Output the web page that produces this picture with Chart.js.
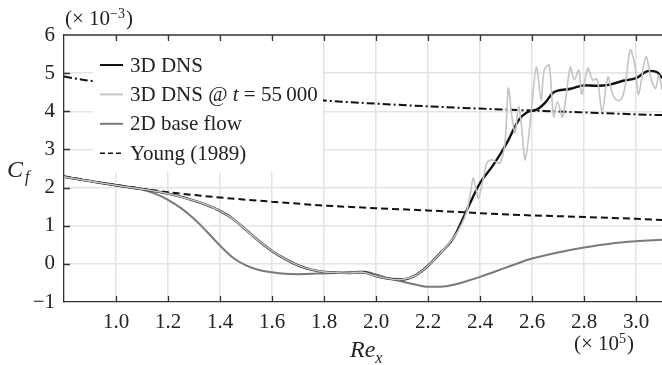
<!DOCTYPE html>
<html>
<head>
<meta charset="utf-8">
<script src="https://cdn.jsdelivr.net/npm/chart.js@4.4.0/dist/chart.umd.min.js"></script>
<style>
  html, body { margin: 0; padding: 0; background: #fff; }
  canvas { display: block; }
</style>
</head>
<body>
<canvas id="cf" width="662" height="365"></canvas>
<script>
// tick labels
const xTicks = [1.0, 1.2, 1.4, 1.6, 1.8, 2.0, 2.2, 2.4, 2.6, 2.8, 3.0];
const yTicks = [-1, 0, 1, 2, 3, 4, 5, 6];

// 3D DNS (time averaged)
const dnsX = [0.8, 0.9, 1.0, 1.1, 1.2, 1.3, 1.35, 1.4, 1.45, 1.5, 1.55, 1.6, 1.65, 1.7, 1.75, 1.8, 1.85, 1.9, 1.95, 2.0,
  2.05, 2.1, 2.15, 2.2, 2.25, 2.3, 2.35, 2.4, 2.45, 2.5, 2.55, 2.58, 2.62, 2.65, 2.68, 2.7, 2.75, 2.8, 2.85, 2.9, 2.95, 3.0, 3.05, 3.08, 3.1];
const dnsY = [2.28, 2.17, 2.06, 1.96, 1.84, 1.66, 1.54, 1.39, 1.18, 0.89, 0.60, 0.34, 0.13, -0.04, -0.15, -0.21, -0.23, -0.24, -0.22, -0.32,
  -0.39, -0.41, -0.31, -0.05, 0.30, 0.70, 1.42, 2.12, 2.58, 3.13, 3.78, 3.97, 4.05, 4.22, 4.48, 4.54, 4.59, 4.68, 4.67, 4.70, 4.80, 4.87, 5.06, 5.03, 4.87];

// 3D DNS snapshot @ t = 55 000
const snapX = [0.8, 0.9, 1.0, 1.1, 1.2, 1.3, 1.35, 1.4, 1.45, 1.5, 1.55, 1.6, 1.65, 1.7, 1.75, 1.8, 1.85, 1.9, 1.95, 2.0,
  2.05, 2.1, 2.15, 2.2, 2.25, 2.3, 2.33, 2.35, 2.362, 2.374, 2.385, 2.394, 2.41, 2.426, 2.445, 2.46, 2.477, 2.496, 2.509,
  2.522, 2.535, 2.548, 2.56, 2.573, 2.585, 2.599, 2.617, 2.635, 2.647, 2.666, 2.683, 2.698, 2.718, 2.747, 2.763, 2.78,
  2.792, 2.815, 2.833, 2.85, 2.87, 2.892, 2.91, 2.93, 2.945, 2.958, 2.978, 2.996, 3.01, 3.038, 3.06, 3.075, 3.088, 3.1];
const snapY = [2.28, 2.17, 2.06, 1.96, 1.84, 1.66, 1.54, 1.39, 1.18, 0.89, 0.60, 0.34, 0.13, -0.04, -0.15, -0.21, -0.23, -0.24, -0.22, -0.32,
  -0.39, -0.41, -0.31, -0.05, 0.30, 0.70, 1.05, 1.40, 1.80, 2.25, 1.95, 1.72, 2.15, 2.64, 2.73, 2.68, 2.64, 3.16, 4.60,
  3.90, 3.43, 4.12, 3.60, 2.73, 3.20, 4.12, 5.15, 4.30, 5.08, 5.21, 3.86, 4.25, 3.85, 5.15, 4.82, 5.08,
  4.45, 5.13, 4.82, 4.85, 4.00, 4.90, 4.45, 4.28, 4.34, 4.65, 5.61, 5.20, 4.45, 5.43, 4.80, 4.60, 4.95, 4.56];

// 2D base flow
const baseX = [0.8, 0.9, 1.0, 1.1, 1.15, 1.2, 1.25, 1.3, 1.35, 1.4, 1.45, 1.5, 1.55, 1.6, 1.65, 1.7, 1.8, 1.9, 1.95, 2.0,
  2.05, 2.1, 2.15, 2.2, 2.25, 2.3, 2.35, 2.4, 2.5, 2.6, 2.7, 2.8, 2.9, 3.0, 3.1];
const baseY = [2.28, 2.17, 2.06, 1.95, 1.84, 1.68, 1.46, 1.18, 0.84, 0.48, 0.16, -0.04, -0.16, -0.22, -0.26, -0.27, -0.25, -0.22, -0.20, -0.28,
  -0.38, -0.46, -0.54, -0.60, -0.60, -0.55, -0.45, -0.34, -0.10, 0.14, 0.30, 0.43, 0.53, 0.59, 0.63];

// Young (1989), laminar and turbulent correlations
const youngLamX = [0.8, 0.9, 1.0, 1.2, 1.4, 1.6, 1.8, 2.0, 2.2, 2.4, 2.6, 2.8, 3.0, 3.1];
const youngLamY = [2.30, 2.17, 2.07, 1.88, 1.74, 1.63, 1.53, 1.46, 1.40, 1.33, 1.27, 1.23, 1.18, 1.15];
const youngTurbX = [0.8, 0.9, 1.0, 1.2, 1.4, 1.6, 1.8, 2.0, 2.2, 2.4, 2.6, 2.8, 3.0, 3.1];
const youngTurbY = [4.91, 4.80, 4.73, 4.58, 4.46, 4.36, 4.28, 4.20, 4.13, 4.07, 4.02, 3.97, 3.92, 3.90];

const SERIF = "'Liberation Serif', 'DejaVu Serif'";
const pts = (xs, ys) => xs.map((x, i) => ({ x: x, y: ys[i] }));

// legend rows (drawn by hand so it sits in a white box inside the axes)
const legendRows = [
  { parts: [['3D DNS', '']], color: '#111', dash: [], width: 2 },
  { parts: [['3D DNS @ ', ''], ['t', 'italic '], [' = 55\u2009000', '']], color: '#c4c4c4', dash: [], width: 2 },
  { parts: [['2D base flow', '']], color: '#7a7a7a', dash: [], width: 2 },
  { parts: [['Young (1989)', '']], color: '#111', dash: [5, 3], width: 1.6 }
];

function runs(ctx, x, y, list) {
  for (const [t, font] of list) {
    ctx.font = font;
    ctx.fillText(t, x, y);
    x += ctx.measureText(t).width;
  }
  return x;
}

const decor = {
  id: 'decor',
  afterDatasetsDraw(chart) {
    const ctx = chart.ctx, ca = chart.chartArea;
    ctx.save();
    ctx.fillStyle = '#fff';
    ctx.fillRect(ca.left + 29, ca.top + 4, 230, 133);
    ctx.restore();
  },
  afterDraw(chart) {
    const ctx = chart.ctx, ca = chart.chartArea;
    const xs = chart.scales.x, ys = chart.scales.y;
    ctx.save();
    // top frame line + inward ticks
    ctx.strokeStyle = '#333';
    ctx.lineWidth = 1.3;
    ctx.beginPath();
    ctx.moveTo(ca.left, ca.top);
    ctx.lineTo(ca.right, ca.top);
    for (const v of xTicks) {
      const px = Math.round(xs.getPixelForValue(v)) + 0.5;
      ctx.moveTo(px, ca.bottom); ctx.lineTo(px, ca.bottom - 6);
      ctx.moveTo(px, ca.top); ctx.lineTo(px, ca.top + 6);
    }
    for (const v of yTicks.slice(1, -1)) {
      const py = Math.round(ys.getPixelForValue(v)) + 0.5;
      ctx.moveTo(ca.left, py); ctx.lineTo(ca.left + 6, py);
    }
    ctx.stroke();

    // legend
    ctx.fillStyle = '#222';
    ctx.textBaseline = 'middle';
    legendRows.forEach((r, i) => {
      const y = ca.top + 30 + i * 29.4;
      ctx.strokeStyle = r.color;
      ctx.lineWidth = r.width;
      ctx.setLineDash(r.dash);
      ctx.beginPath();
      ctx.moveTo(ca.left + 36, y); ctx.lineTo(ca.left + 59, y);
      ctx.stroke();
      ctx.setLineDash([]);
      runs(ctx, ca.left + 66, y + 1, r.parts.map(p => [p[0], p[1] + '21px ' + SERIF]));
    });

    // axis titles and multipliers
    ctx.textBaseline = 'alphabetic';
    runs(ctx, 7, 177, [['C', 'italic 24px ' + SERIF]]);
    runs(ctx, 25, 182, [['f', 'italic 16px ' + SERIF]]);
    let x = runs(ctx, 350, 357, [['Re', 'italic 24px ' + SERIF]]);
    runs(ctx, x, 363, [['x', 'italic 16px ' + SERIF]]);

    x = runs(ctx, 65, 25, [['(\u00d7 10', '21px ' + SERIF]]);
    x = runs(ctx, x, 18, [['\u22123', '14px ' + SERIF]]);
    runs(ctx, x + 1, 25, [[')', '21px ' + SERIF]]);

    x = runs(ctx, 574, 350, [['(\u00d7 10', '21px ' + SERIF]]);
    x = runs(ctx, x, 343, [['5', '14px ' + SERIF]]);
    runs(ctx, x + 1, 350, [[')', '21px ' + SERIF]]);
    ctx.restore();
  }
};

new Chart(document.getElementById('cf'), {
  type: 'line',
  data: {
    datasets: [
      { label: '3D DNS @ t = 55 000', data: pts(snapX, snapY), borderColor: '#c4c4c4', borderWidth: 1.6, tension: 0.3, order: 0 },
      { label: '3D DNS', data: pts(dnsX, dnsY), borderColor: '#111', borderWidth: 2.4, cubicInterpolationMode: 'monotone', order: 1 },
      { label: '2D base flow', data: pts(baseX, baseY), borderColor: '#7a7a7a', borderWidth: 2, cubicInterpolationMode: 'monotone', order: 2 },
      { label: 'Young (1989)', data: pts(youngLamX, youngLamY), borderColor: '#111', borderWidth: 2, borderDash: [7, 4], cubicInterpolationMode: 'monotone', order: 3 },
      { label: 'Young (1989) turbulent', data: pts(youngTurbX, youngTurbY), borderColor: '#111', borderWidth: 2, borderDash: [8, 3, 2, 3], cubicInterpolationMode: 'monotone', order: 4 }
    ]
  },
  options: {
    responsive: false,
    animation: false,
    devicePixelRatio: 1,
    layout: { padding: { top: 35, right: 0, left: 0, bottom: 0 } },
    elements: { point: { radius: 0 } },
    plugins: { legend: { display: false }, tooltip: { enabled: false } },
    scales: {
      x: {
        type: 'linear', min: 0.8, max: 3.1,
        afterBuildTicks: s => { s.ticks = xTicks.map(v => ({ value: v })); },
        afterFit: s => { s.height = 63; },
        grid: { color: '#e4e4e4', lineWidth: 1.5, drawTicks: false },
        border: { color: '#333', width: 1.3 },
        ticks: { padding: 8, color: '#222', maxRotation: 0, autoSkip: false,
          font: { family: SERIF, size: 21 }, callback: v => Number(v).toFixed(1) }
      },
      y: {
        type: 'linear', min: -1, max: 6,
        afterBuildTicks: s => { s.ticks = yTicks.map(v => ({ value: v })); },
        afterFit: s => { s.width = 64; },
        grid: { color: c => (c.tick && (c.tick.value === 6 || c.tick.value === -1)) ? 'rgba(0,0,0,0)' : '#e4e4e4', lineWidth: 1.5, drawTicks: false },
        border: { color: '#333', width: 1.3 },
        ticks: { padding: 9, color: '#222', font: { family: SERIF, size: 21 },
          callback: v => v < 0 ? '\u2212' + Math.abs(v) : String(v) }
      }
    }
  },
  plugins: [decor]
});
</script>
</body>
</html>
